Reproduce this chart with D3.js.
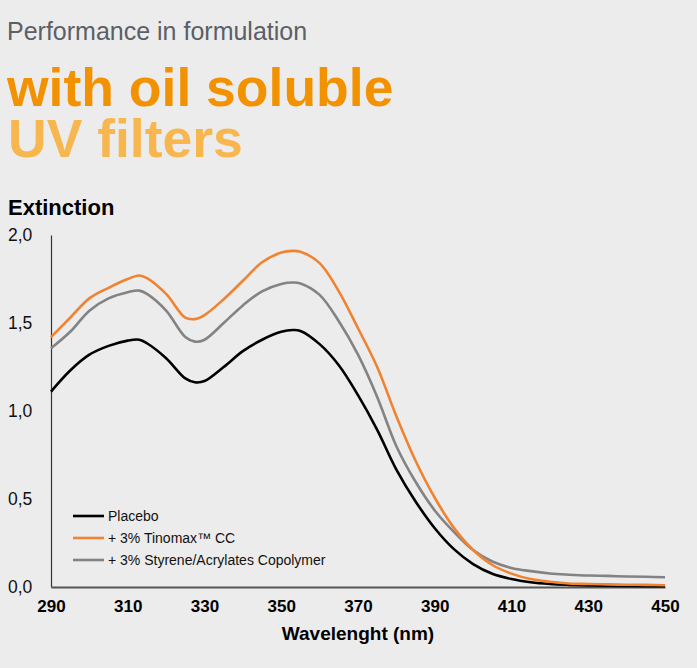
<!DOCTYPE html>
<html>
<head>
<meta charset="utf-8">
<script src="https://cdn.jsdelivr.net/npm/d3@7/dist/d3.min.js"></script>
<style>
  html, body { margin: 0; padding: 0; background: #ececec; }
  svg { display: block; font-family: "Liberation Sans", Arial, sans-serif; }
</style>
</head>
<body>
<svg id="chart" width="697" height="668"></svg>
<script>
// wavelengths (nm)
var wavelengths = [290, 295, 300, 305, 310, 313, 315, 320, 325, 327.5, 330, 335, 340, 345, 350, 353, 355, 360, 365, 370, 375, 380, 385, 390, 395, 400, 405, 410, 415, 420, 425, 430, 435, 440, 445, 450];

var placebo = [1.11, 1.23, 1.32, 1.37, 1.40, 1.405, 1.385, 1.30, 1.185, 1.163, 1.17, 1.25, 1.34, 1.405, 1.45, 1.46, 1.455, 1.38, 1.26, 1.09, 0.893, 0.667, 0.486, 0.334, 0.215, 0.13, 0.075, 0.045, 0.027, 0.017, 0.012, 0.009, 0.007, 0.006, 0.005, 0.005];
var tinomax = [1.42, 1.53, 1.64, 1.70, 1.75, 1.77, 1.755, 1.665, 1.53, 1.522, 1.545, 1.635, 1.74, 1.845, 1.90, 1.91, 1.905, 1.84, 1.68, 1.47, 1.25, 0.97, 0.717, 0.507, 0.336, 0.21, 0.125, 0.076, 0.045, 0.03, 0.02, 0.017, 0.015, 0.013, 0.012, 0.01];
var styrene = [1.356, 1.45, 1.57, 1.64, 1.675, 1.684, 1.665, 1.57, 1.42, 1.394, 1.405, 1.50, 1.60, 1.68, 1.722, 1.73, 1.725, 1.66, 1.51, 1.32, 1.08, 0.80, 0.598, 0.435, 0.313, 0.21, 0.145, 0.108, 0.09, 0.077, 0.07, 0.065, 0.063, 0.06, 0.058, 0.055];

var xTicks = [290, 310, 330, 350, 370, 390, 410, 430, 450];
var yTicks = [0, 0.5, 1.0, 1.5, 2.0];

var seriesNames = ['Placebo', '+ 3% Tinomax\u2122 CC', '+ 3% Styrene/Acrylates Copolymer'];
var seriesColors = ['#000000', '#f08331', '#838383'];
var seriesValues = [placebo, tinomax, styrene];

var svg = d3.select('#chart');
var margin = {left: 51, right: 32, top: 235, bottom: 81};
var width = 697 - margin.left - margin.right;
var height = 668 - margin.top - margin.bottom;

// headings
svg.append('text')
    .attr('x', 7).attr('y', 40)
    .style('font-size', '25px')
    .style('fill', '#5b5f66')
    .text('Performance in formulation');
svg.append('text')
    .attr('x', 7).attr('y', 106)
    .style('font-size', '53.5px')
    .style('font-weight', 'bold')
    .style('fill', '#f39200')
    .text('with oil soluble');
svg.append('text')
    .attr('x', 8).attr('y', 157)
    .style('font-size', '53.5px')
    .style('font-weight', 'bold')
    .style('fill', '#f8b64e')
    .text('UV filters');
svg.append('text')
    .attr('x', 8).attr('y', 215)
    .style('font-size', '22px')
    .style('font-weight', 'bold')
    .style('fill', '#000')
    .text('Extinction');

var g = svg.append('g')
    .attr('transform', 'translate(' + margin.left + ',' + margin.top + ')');

var xScale = d3.scaleLinear().domain([290, 450]).range([0, width]);
var yScale = d3.scaleLinear().domain([0, 2]).range([height, 0]);

// y axis
var yAxis = g.append('g')
    .call(d3.axisLeft(yScale).tickValues(yTicks).tickSize(0).tickPadding(18)
        .tickFormat(function (d) { return d3.format('.1f')(d).replace('.', ','); }));
yAxis.select('.domain').attr('stroke', '#333').attr('stroke-width', 1.2);
yAxis.selectAll('text')
    .style('font-size', '17.5px')
    .style('fill', '#111')
    .attr('text-anchor', 'start')
    .attr('x', -43);

// x axis
var xAxis = g.append('g')
    .attr('transform', 'translate(0,' + height + ')')
    .call(d3.axisBottom(xScale).tickValues(xTicks).tickSize(0).tickPadding(13)
        .tickFormat(d3.format('d')));
xAxis.select('.domain').attr('stroke', '#555').attr('stroke-width', 2);
xAxis.selectAll('text')
    .style('font-size', '17px')
    .style('font-weight', 'bold')
    .style('fill', '#000');

svg.append('text')
    .attr('x', 358).attr('y', 640)
    .attr('text-anchor', 'middle')
    .style('font-size', '19px')
    .style('font-weight', 'bold')
    .text('Wavelenght (nm)');

// curves
var line = d3.line()
    .x(function (d) { return xScale(d[0]); })
    .y(function (d) { return yScale(d[1]); })
    .curve(d3.curveCatmullRom.alpha(0.5));

var drawOrder = [0, 2, 1];
drawOrder.forEach(function (i) {
    var pts = wavelengths.map(function (w, k) { return [w, seriesValues[i][k]]; });
    g.append('path')
        .attr('d', line(pts))
        .attr('fill', 'none')
        .attr('stroke', seriesColors[i])
        .attr('stroke-width', 2.6)
        .attr('stroke-linejoin', 'round');
});

// legend
var legend = svg.append('g').attr('transform', 'translate(73,516)');
seriesNames.forEach(function (name, i) {
    var row = legend.append('g').attr('transform', 'translate(0,' + (i * 22) + ')');
    row.append('line')
        .attr('x1', 0).attr('x2', 31)
        .attr('stroke', seriesColors[i])
        .attr('stroke-width', 2.6);
    row.append('text')
        .attr('x', 35).attr('y', 5)
        .style('font-size', '14px')
        .style('fill', '#111')
        .text(name);
});
</script>
</body>
</html>
